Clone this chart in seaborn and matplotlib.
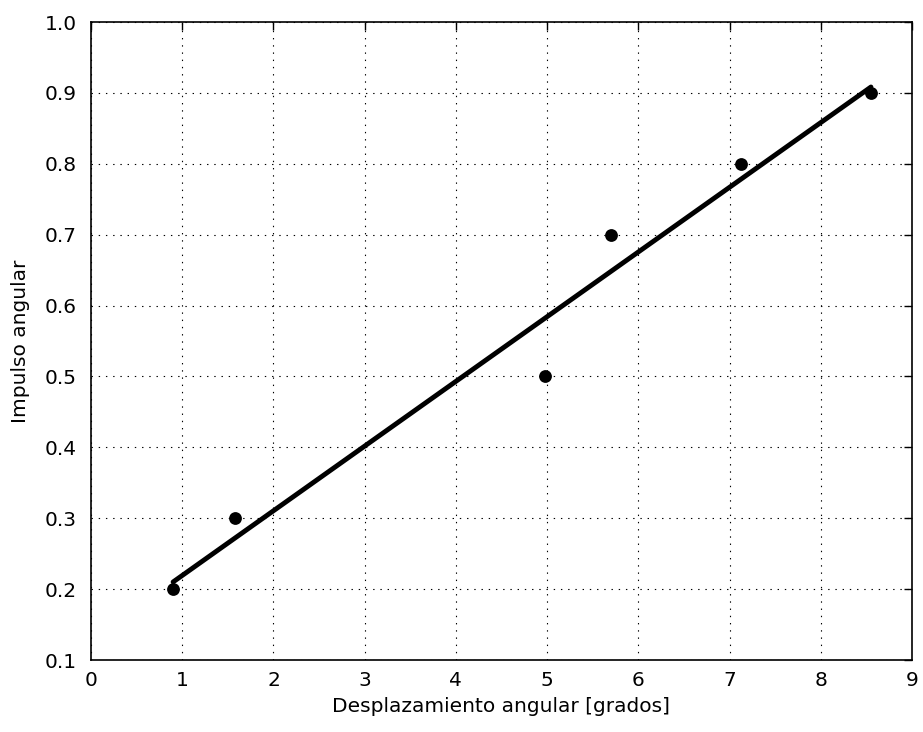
import matplotlib
matplotlib.use("Agg")
import matplotlib.pyplot as plt
import seaborn as sns
import pandas as pd

desplazamiento = [0.90, 1.58, 4.98, 5.70, 7.13, 8.55]
impulso = [0.2, 0.3, 0.5, 0.7, 0.8, 0.9]
xticks = list(range(0, 10))
yticks = [0.1, 0.2, 0.3, 0.4, 0.5, 0.6, 0.7, 0.8, 0.9, 1.0]

df = pd.DataFrame({"x": desplazamiento, "y": impulso})

sns.set_style("white")
plt.rcParams["font.family"] = ["DejaVu Sans"]
plt.rcParams["text.color"] = "black"
plt.rcParams["axes.labelcolor"] = "black"
plt.rcParams["xtick.color"] = "black"
plt.rcParams["ytick.color"] = "black"

fig = plt.figure(figsize=(9.23, 7.32), dpi=100)
ax = fig.add_axes([91/923, 1 - 660/732, (912-91)/923, (660-22)/732])

sns.scatterplot(data=df, x="x", y="y", ax=ax, color="black", s=85,
                edgecolor="black", linewidth=0, zorder=3)
sns.regplot(data=df, x="x", y="y", ax=ax, ci=None, scatter=False,
            color="black", line_kws={"linewidth": 3.5, "zorder": 4}, truncate=True)

ax.set_xlim(0, 9)
ax.set_ylim(0.1, 1.0)
ax.set_xticks(xticks)
ax.set_yticks(yticks)
ax.set_xticklabels([str(t) for t in xticks])
ax.set_yticklabels([f"{t:.1f}" for t in yticks])
ax.tick_params(axis="both", labelsize=14.5, direction="in", length=6, width=1,
               color="black", labelcolor="black", top=True, right=True)
ax.tick_params(axis="x", pad=8)
ax.tick_params(axis="y", pad=10)
ax.grid(True, color="black", linestyle=(0, (1.25, 5.25)), linewidth=0.8)
for s in ax.spines.values():
    s.set_color("black")
    s.set_linewidth(1.2)
ax.set_xlabel("Desplazamiento angular [grados]", fontsize=14.5, labelpad=5)
ax.set_ylabel("Impulso angular", fontsize=14.5, labelpad=11)

fig.savefig("out.png", dpi=100)
